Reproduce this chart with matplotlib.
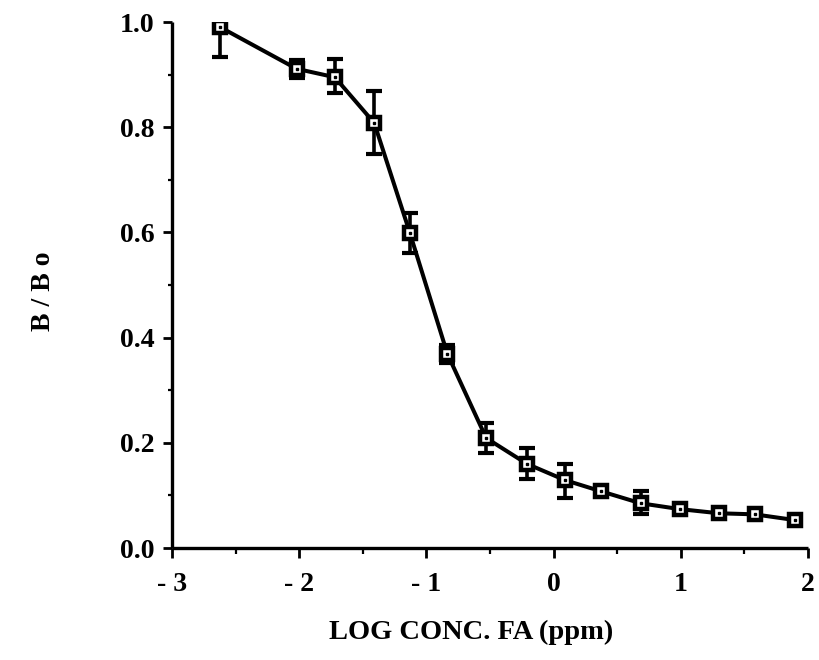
import matplotlib
matplotlib.use("Agg")
import matplotlib.pyplot as plt
from matplotlib.ticker import MultipleLocator, FixedLocator

log_conc = [-2.62, -2.02, -1.72, -1.41, -1.13, -0.835, -0.53, -0.21, 0.09, 0.37, 0.685, 0.99, 1.30, 1.58, 1.90]
b_bo = [0.990, 0.911, 0.895, 0.808, 0.599, 0.369, 0.209, 0.160, 0.129, 0.108, 0.085, 0.074, 0.066, 0.064, 0.053]
err_low = [0.057, 0.017, 0.030, 0.058, 0.038, 0.017, 0.028, 0.029, 0.034, 0.008, 0.020, 0.006, 0.005, 0.005, 0.004]
err_high = [0.000, 0.017, 0.034, 0.060, 0.038, 0.017, 0.029, 0.030, 0.031, 0.008, 0.023, 0.006, 0.005, 0.005, 0.004]

x_ticks = [-3, -2, -1, 0, 1, 2]
x_labels = ["- 3", "- 2", "- 1", "0", "1", "2"]
y_ticks = [0.0, 0.2, 0.4, 0.6, 0.8, 1.0]
y_labels = ["0.0", "0.2", "0.4", "0.6", "0.8", "1.0"]

plt.rcParams['font.family'] = ['Liberation Serif', 'DejaVu Serif']
plt.rcParams['font.weight'] = 'bold'

fig = plt.figure(figsize=(8.19, 6.6), dpi=100)
ax = fig.add_axes([172/819, 1 - 548/660, (808-172)/819, (548-22)/660])

ax.errorbar(log_conc, b_bo, yerr=[err_low, err_high], fmt='none', ecolor='black',
            elinewidth=2.6, capsize=6, capthick=3, zorder=2)
ax.plot(log_conc, b_bo, color='black', lw=2.9, marker='s', ms=8.2,
        mfc='white', mec='black', mew=3.2, zorder=3)
ax.plot(log_conc, b_bo, ls='none', marker='s', ms=1.8, color='black', zorder=4)

ax.set_xlim(-3, 2)
ax.set_ylim(0, 1.0)
for s in ['top', 'right']:
    ax.spines[s].set_visible(False)
for s in ['left', 'bottom']:
    ax.spines[s].set_linewidth(2.4)
    ax.spines[s].set_capstyle('butt')

ax.xaxis.set_major_locator(FixedLocator(x_ticks))
ax.set_xticklabels(x_labels)
ax.xaxis.set_minor_locator(MultipleLocator(0.5))
ax.yaxis.set_major_locator(FixedLocator(y_ticks))
ax.set_yticklabels(y_labels)
ax.yaxis.set_minor_locator(MultipleLocator(0.1))

ax.tick_params(axis='x', which='major', direction='out', length=7, width=2, pad=10, labelsize=20)
ax.tick_params(axis='x', which='minor', direction='out', length=4, width=1.6)
ax.tick_params(axis='y', which='major', direction='out', length=6.5, width=2, pad=6, labelsize=20)
ax.tick_params(axis='y', which='minor', direction='out', length=3, width=1.6)
for lab in ax.get_xticklabels() + ax.get_yticklabels():
    lab.set_fontweight('bold')

ax.set_xlabel("LOG CONC. FA (ppm)", fontsize=20.5, fontweight='bold')
ax.xaxis.set_label_coords((471-172)/636, -(632-548)/526, transform=None)
ax.xaxis.label.set_va('center')
ax.xaxis.set_label_coords((471-172)/636, -(632-548)/526)
fig.text(44/819, 1 - 291/660, "B / B o", rotation=90, fontsize=20, fontweight='bold',
         ha='center', va='center')

fig.savefig("out.png", dpi=100, facecolor='white')
